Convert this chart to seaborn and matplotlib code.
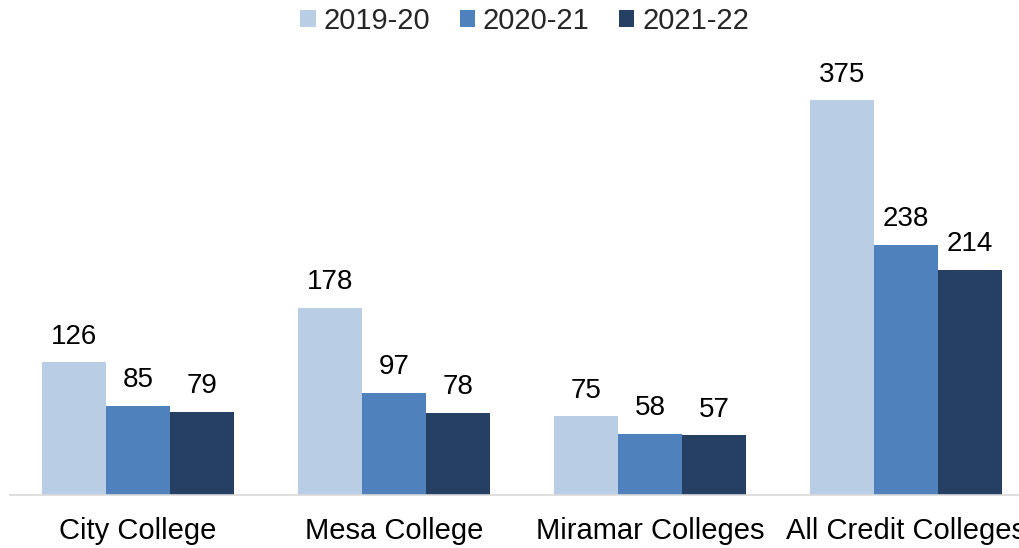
import matplotlib
matplotlib.use("Agg")
import matplotlib.pyplot as plt
import seaborn as sns
import pandas as pd

categories = ["City College", "Mesa College", "Miramar Colleges", "All Credit Colleges"]
years = ["2019-20", "2020-21", "2021-22"]
v2019 = [126, 178, 75, 375]
v2020 = [85, 97, 58, 238]
v2021 = [79, 78, 57, 214]
colors = ["#B9CDE5", "#4F81BD", "#264063"]

rows = []
for y, vals in zip(years, [v2019, v2020, v2021]):
    for c, v in zip(categories, vals):
        rows.append({"College": c, "Year": y, "Value": v})
df = pd.DataFrame(rows)

sns.set_theme(style="white")
plt.rcParams["font.family"] = ["Liberation Sans", "DejaVu Sans"]

fig = plt.figure(figsize=(10.19, 5.48), dpi=100)
ax = fig.add_axes([10 / 1019, 53 / 548, 1024 / 1019, 442 / 548])
sns.barplot(data=df, x="College", y="Value", hue="Year", palette=colors,
            hue_order=years, order=categories, width=0.75, saturation=1,
            linewidth=0, edgecolor="none", ax=ax, legend=True)
ax.set_xlim(-0.5, 3.5)
ax.set_ylim(0, 420)
for cont in ax.containers:
    ax.bar_label(cont, padding=9, fontsize=20, color="black")

for s in ["top", "left", "right"]:
    ax.spines[s].set_visible(False)
ax.spines["bottom"].set_color("#D9D9D9")
ax.spines["bottom"].set_linewidth(1.2)
ax.set_yticks([])
ax.set_xlabel("")
ax.set_ylabel("")
ax.tick_params(axis="x", labelsize=21, colors="black", length=0, pad=16)

handles, labels = ax.get_legend_handles_labels()
ax.get_legend().remove()
fig.legend(handles, labels, loc="upper center", bbox_to_anchor=(0.515, 1.035),
           ncol=3, frameon=False, fontsize=21, handlelength=0.52,
           handleheight=0.52, handletextpad=0.28, columnspacing=1.0)

fig.savefig("out.png", dpi=100)
